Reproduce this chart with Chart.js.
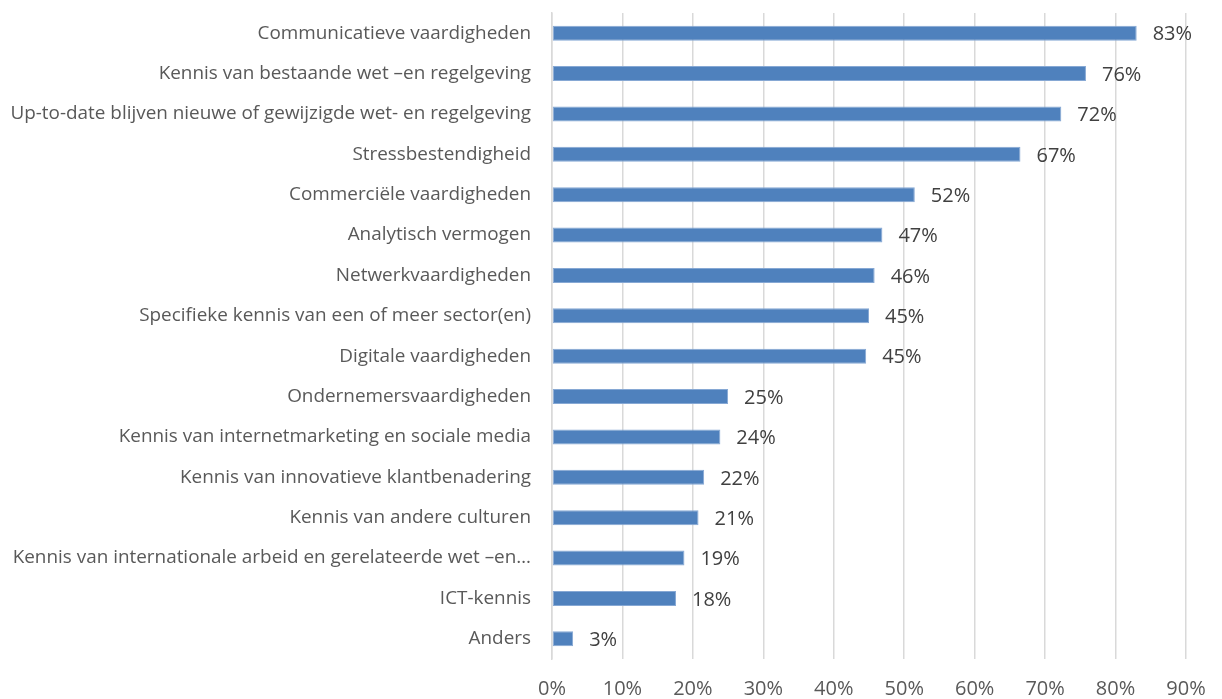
<!DOCTYPE html>
<html>
<head>
<meta charset="utf-8">
<script src="https://cdn.jsdelivr.net/npm/chart.js@4.4.1/dist/chart.umd.min.js"></script>
<style>
  html, body { margin: 0; padding: 0; background: #ffffff; }
  #wrap { width: 1222px; height: 699px; position: relative; }
</style>
</head>
<body>
<div id="wrap"><canvas id="c" width="1222" height="699"></canvas></div>
<script>
const categories = [
  "Communicatieve vaardigheden",
  "Kennis van bestaande wet \u2013en regelgeving",
  "Up-to-date blijven nieuwe of gewijzigde wet- en regelgeving",
  "Stressbestendigheid",
  "Commerci\u00eble vaardigheden",
  "Analytisch vermogen",
  "Netwerkvaardigheden",
  "Specifieke kennis van een of meer sector(en)",
  "Digitale vaardigheden",
  "Ondernemersvaardigheden",
  "Kennis van internetmarketing en sociale media",
  "Kennis van innovatieve klantbenadering",
  "Kennis van andere culturen",
  "Kennis van internationale arbeid en gerelateerde wet \u2013en\u2026",
  "ICT-kennis",
  "Anders"
];
const values = [83.0, 75.8, 72.3, 66.5, 51.5, 46.9, 45.8, 45.0, 44.6, 25.0, 23.9, 21.6, 20.8, 18.8, 17.6, 3.0];
const valueLabels = ["83%", "76%", "72%", "67%", "52%", "47%", "46%", "45%", "45%", "25%", "24%", "22%", "21%", "19%", "18%", "3%"];
const xTicks = [0, 10, 20, 30, 40, 50, 60, 70, 80, 90];

const FONT = "'Open Sans', 'Noto Sans', sans-serif";

const valueLabelPlugin = {
  id: 'valueLabels',
  afterDatasetsDraw(chart) {
    const ctx = chart.ctx;
    const meta = chart.getDatasetMeta(0);
    ctx.save();
    ctx.font = "20px " + FONT;
    ctx.fillStyle = "#404040";
    ctx.textAlign = "left";
    ctx.textBaseline = "middle";
    meta.data.forEach((bar, i) => {
      ctx.fillText(valueLabels[i], bar.x + 16, bar.y + 1.5);
    });
    ctx.restore();
  }
};

new Chart(document.getElementById('c'), {
  type: 'bar',
  data: {
    labels: categories,
    datasets: [{
      data: values,
      backgroundColor: '#4F81BD',
      borderColor: '#86A8D4',
      borderWidth: 1,
      borderSkipped: false,
      barPercentage: 0.37,
      categoryPercentage: 1.0
    }]
  },
  options: {
    indexAxis: 'y',
    responsive: false,
    animation: false,
    maintainAspectRatio: false,
    layout: { padding: { top: 13, right: 36, bottom: 0, left: 0 } },
    plugins: {
      legend: { display: false },
      tooltip: { enabled: false }
    },
    scales: {
      x: {
        min: 0,
        max: 90,
        afterBuildTicks(scale) {
          scale.ticks = xTicks.map(v => ({ value: v }));
        },
        afterFit(scale) {
          scale.height = 40;
          scale.paddingLeft = 0;
          scale.paddingRight = 0;
        },
        grid: {
          color: '#D9D9D9',
          lineWidth: 1.5,
          drawTicks: false
        },
        border: { display: false },
        ticks: {
          padding: 18,
          color: '#595959',
          font: { family: FONT, size: 20 },
          callback: v => v + '%'
        }
      },
      y: {
        afterFit(scale) {
          scale.width = 552;
          scale.paddingTop = 0;
          scale.paddingBottom = 0;
        },
        grid: { display: false, drawTicks: false },
        border: { display: true, color: '#D9D9D9', width: 1.5 },
        ticks: {
          padding: 21,
          color: '#595959',
          autoSkip: false,
          font: { family: FONT, size: 18.9 }
        }
      }
    }
  },
  plugins: [valueLabelPlugin]
});
</script>
</body>
</html>
